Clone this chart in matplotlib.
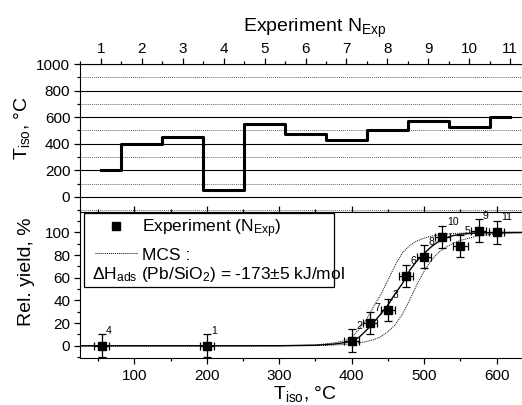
import matplotlib

matplotlib.use("Agg")
import matplotlib.pyplot as plt
from matplotlib.patches import Rectangle
from matplotlib.ticker import MultipleLocator

plt.rcParams["font.family"] = "Liberation Sans"
plt.rcParams["mathtext.fontset"] = "custom"
plt.rcParams["mathtext.rm"] = "Liberation Sans"
plt.rcParams["mathtext.it"] = "Liberation Sans:italic"
plt.rcParams["mathtext.sf"] = "Liberation Sans"

# isothermal temperature per experiment
n_exp = [1, 2, 3, 4, 5, 6, 7, 8, 9, 10, 11]
t_iso = [200, 400, 450, 55, 550, 475, 425, 500, 575, 525, 600]

# relative yield measured in each experiment (same order as n_exp)
rel_yield = [0, 4.5, 31.5, 0, 88, 61.5, 20, 78.5, 101.5, 96, 100]
yield_err = [10, 10, 10, 10, 10, 10, 10, 10, 10, 10, 10]
temp_err = [10, 10, 10, 10, 10, 10, 10, 10, 10, 10, 10]

# Monte Carlo simulation curves: best fit and the +-5 kJ/mol envelope
mcs_t = [25, 300, 350, 375, 390, 400, 410, 420, 430, 440, 450, 460, 470,
         480, 490, 500, 510, 520, 530, 540, 550, 575, 600, 635]
mcs_best = [0, 0.1, 0.5, 1.5, 2.8, 4.3, 7.5, 13.5, 20.5, 28, 36, 46, 55,
            66.5, 75, 81.5, 87.5, 92, 95.2, 97.2, 98.4, 99.6, 99.9, 100]
mcs_168 = [0, 0, 0.8, 2.5, 4.5, 7.5, 14.5, 23, 34.5, 45, 58, 71, 82,
           88.5, 92.5, 95, 96.8, 97.8, 98.5, 99, 99.3, 99.7, 99.9, 100]
mcs_178 = [0, 0, 0.2, 0.7, 1.2, 1.8, 2.7, 3.8, 5.3, 8, 12.5, 18.5, 28,
           40.5, 54, 66, 75.5, 82.5, 87, 90.5, 93, 97, 98.8, 99.7]

W, H = 522, 405
fig = plt.figure(figsize=(W / 100, H / 100), dpi=100)

# panel layout in pixels: left, right, top of upper panel, split, bottom
left, right = 80, 522
top, split, bottom = 64, 212, 358.3
ax_top = fig.add_axes([left / W, 1 - split / H, (right - left) / W, (split - top) / H])
ax_bot = fig.add_axes([left / W, 1 - bottom / H, (right - left) / W, (bottom - split) / H])

# --- upper panel: temperature program ---
ax_top.step(n_exp, t_iso, where="mid", color="black", lw=2.2, zorder=3)
ax_top.set_xlim(0.49, 11.29)
ax_top.set_ylim(-113, 1000)
ax_top.xaxis.tick_top()
ax_top.set_xticks(n_exp)
ax_top.xaxis.set_minor_locator(MultipleLocator(0.5))
ax_top.set_yticks(range(0, 1001, 200))
ax_top.yaxis.set_minor_locator(MultipleLocator(100))
ax_top.yaxis.grid(True, which="major", color="black", lw=0.8)
ax_top.yaxis.grid(True, which="minor", color="0.4", lw=0.7, ls=(0, (1, 1)))
ax_top.spines["right"].set_visible(False)
ax_top.tick_params(which="both", direction="out", width=0.9, labelsize=11, pad=2)
ax_top.tick_params(axis="y", pad=3)
ax_top.tick_params(which="major", length=4)
ax_top.tick_params(which="minor", length=2.5)
ax_top.set_ylabel(r"T$_{\mathrm{iso}}$, °C", fontsize=14)
ax_top.yaxis.set_label_coords(-0.109, 0.57)
fig.text(243 / W, 1 - 31.7 / H, r"Experiment N$_{\mathrm{Exp}}$", fontsize=14, va="baseline")

# --- lower panel: yield vs temperature ---
ax_bot.plot(mcs_t, mcs_168, color="black", lw=0.7, ls=(0, (1, 1)))
ax_bot.plot(mcs_t, mcs_178, color="black", lw=0.7, ls=(0, (1, 1)))
ax_bot.plot(mcs_t, mcs_best, color="black", lw=1.0)
ax_bot.errorbar(t_iso, rel_yield, xerr=temp_err, yerr=yield_err, fmt="s",
                color="black", ms=6, capsize=3, elinewidth=0.9, capthick=0.9, zorder=4)
for n, t, y in zip(n_exp, t_iso, rel_yield):
    ax_bot.annotate(str(n), (t, y), xytext=(3.2, 10.8), textcoords="offset points",
                    fontsize=7.5, ha="left", va="center")

ax_bot.set_xlim(25, 635)
ax_bot.set_ylim(-11, 118)
ax_bot.set_xticks(range(100, 601, 100))
ax_bot.xaxis.set_minor_locator(MultipleLocator(50))
ax_bot.set_yticks(range(0, 101, 20))
ax_bot.yaxis.set_minor_locator(MultipleLocator(10))
ax_bot.spines["right"].set_visible(False)
ax_bot.tick_params(which="both", direction="out", width=0.9, labelsize=11, pad=3)
ax_bot.tick_params(axis="x", pad=4)
ax_bot.tick_params(which="major", length=4)
ax_bot.tick_params(which="minor", length=2.5)
ax_bot.tick_params(axis="x", which="both", top=True, labeltop=False)
ax_bot.set_ylabel("Rel. yield, %", fontsize=14)
ax_bot.yaxis.set_label_coords(-0.102, 0.59)
fig.text(273 / W, 1 - 399.5 / H, r"T$_{\mathrm{iso}}$, °C", fontsize=14, va="baseline")


def to_ax(px, py):
    # pixel position inside the lower panel -> axes fraction
    return (px - left) / (right - left), (bottom - py) / (bottom - split)


# hand-built legend box
x0, y0 = to_ax(84, 287)
x1, y1 = to_ax(334, 213)
ax_bot.add_patch(Rectangle((x0, y0), x1 - x0, y1 - y0, transform=ax_bot.transAxes,
                           facecolor="white", edgecolor="black", lw=0.9, zorder=5))
mx, my = to_ax(115.5, 226)
ax_bot.plot([mx], [my], "s", color="black", ms=6, transform=ax_bot.transAxes, zorder=6)
tx, ty = to_ax(141.7, 232.3)
ax_bot.text(tx, ty, r"Experiment (N$_{\mathrm{Exp}}$)", fontsize=12.5, va="baseline",
            transform=ax_bot.transAxes, zorder=6)
lx0, ly = to_ax(95, 252.7)
lx1, _ = to_ax(137.3, 252.7)
ax_bot.plot([lx0, lx1], [ly, ly], color="black", lw=0.7, ls=(0, (1, 1)),
            transform=ax_bot.transAxes, zorder=6)
tx, ty = to_ax(141.7, 260)
ax_bot.text(tx, ty, "MCS :", fontsize=12.5, va="baseline", transform=ax_bot.transAxes, zorder=6)
tx, ty = to_ax(91.7, 279)
ax_bot.text(tx, ty, r"$\Delta$H$_{\mathrm{ads}}$ (Pb/SiO$_{2}$) = -173±5 kJ/mol", fontsize=12.5,
            va="baseline", transform=ax_bot.transAxes, zorder=6)

fig.savefig("out.png", dpi=100)
plt.close(fig)
